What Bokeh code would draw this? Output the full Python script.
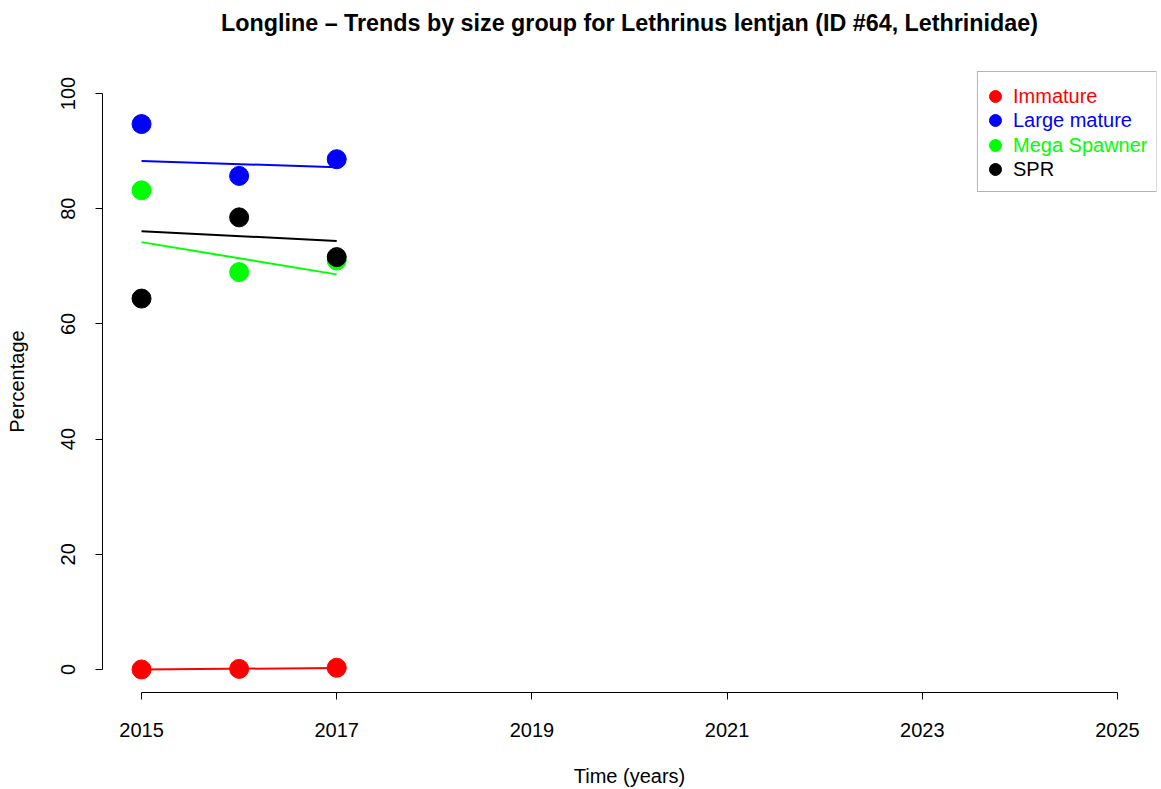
from bokeh.plotting import figure
from bokeh.models import (Range1d, FixedTicker, Legend, LegendItem, BoxAnnotation)
from bokeh.embed import file_html
from bokeh.resources import INLINE

# ---- data ----
years = [2015, 2016, 2017]
immature = [0.0, 0.1, 0.3]
large_mature = [94.7, 85.7, 88.6]
mega_spawner = [83.2, 69.0, 71.0]
spr = [64.4, 78.5, 71.6]

trend_years = [2015, 2017]
immature_trend = [0.0, 0.25]
large_trend = [88.3, 87.2]
mega_trend = [74.2, 68.6]
spr_trend = [76.1, 74.4]

group_names = ["Immature", "Large mature", "Mega Spawner", "SPR"]
group_colors = ["#FF0000", "#0000FF", "#00FF00", "#000000"]
x_ticks = [2015, 2017, 2019, 2021, 2023, 2025]
y_ticks = [0, 20, 40, 60, 80, 100]
title_text = "Longline \u2013 Trends by size group for Lethrinus lentjan (ID #64, Lethrinidae)"

FONT = "Liberation Sans"
X0, X1 = 2014.6, 2025.4
Y0, Y1 = -4, 104

p = figure(width=1161, height=789, output_backend="svg", toolbar_location=None,
           x_range=Range1d(X0, X1), y_range=Range1d(Y0, Y1),
           min_border_left=102, min_border_right=5, min_border_top=70, min_border_bottom=97,
           title=title_text + "\n")
p.outline_line_color = None
p.grid.visible = False
p.background_fill_color = "white"
p.border_fill_color = "white"

p.title.text_font = FONT
p.title.text_font_size = "23.3px"
p.title.text_font_style = "bold"
p.title.text_color = "black"
p.title.align = "center"
p.title.vertical_align = "top"
p.title.standoff = 14

for ax, ticks, bounds in ((p.xaxis[0], x_ticks, (2015, 2025)), (p.yaxis[0], y_ticks, (0, 100))):
    ax.ticker = FixedTicker(ticks=ticks)
    ax.bounds = bounds
    ax.minor_tick_line_color = None
    ax.major_tick_in = 0
    ax.major_tick_out = 7
    ax.axis_line_color = "black"
    ax.major_tick_line_color = "black"
    ax.major_label_text_font = FONT
    ax.major_label_text_font_size = "20px"
    ax.major_label_text_color = "black"
    ax.axis_label_text_font = FONT
    ax.axis_label_text_font_size = "20px"
    ax.axis_label_text_font_style = "normal"
    ax.axis_label_text_color = "black"

p.xaxis.axis_label = "Time (years)"
p.yaxis.axis_label = "Percentage"
p.xaxis.major_label_standoff = 23
p.xaxis.axis_label_standoff = 25
p.yaxis.major_label_standoff = 20
p.yaxis.major_label_orientation = "vertical"
p.yaxis.axis_label_standoff = 31

series = [immature, large_mature, mega_spawner, spr]
trends = [immature_trend, large_trend, mega_trend, spr_trend]
point_renderers = []
for vals, tr, col in zip(series, trends, group_colors):
    r = p.scatter(years, vals, size=19, color=col, line_color=col)
    p.line(trend_years, tr, line_color=col, line_width=2)
    point_renderers.append(r)

# legend box
p.add_layout(BoxAnnotation(left=2023.565, right=X1, top=103.83, bottom=82.99,
                           fill_color=None, fill_alpha=0, line_color="black", line_width=1))

row_bottoms = [581, 557, 532, 508]
for name, col, r, yb in zip(group_names, group_colors, point_renderers, row_bottoms):
    lg = Legend(items=[LegendItem(label=name, renderers=[r])], location=(878, yb),
                padding=0, margin=0, spacing=0, glyph_width=30, glyph_height=30,
                label_height=30, label_standoff=3,
                label_text_font=FONT, label_text_font_size="20px", label_text_color=col,
                border_line_alpha=0, background_fill_alpha=0)
    p.add_layout(lg, "center")

open("out.html", "w").write(file_html(p, INLINE))
